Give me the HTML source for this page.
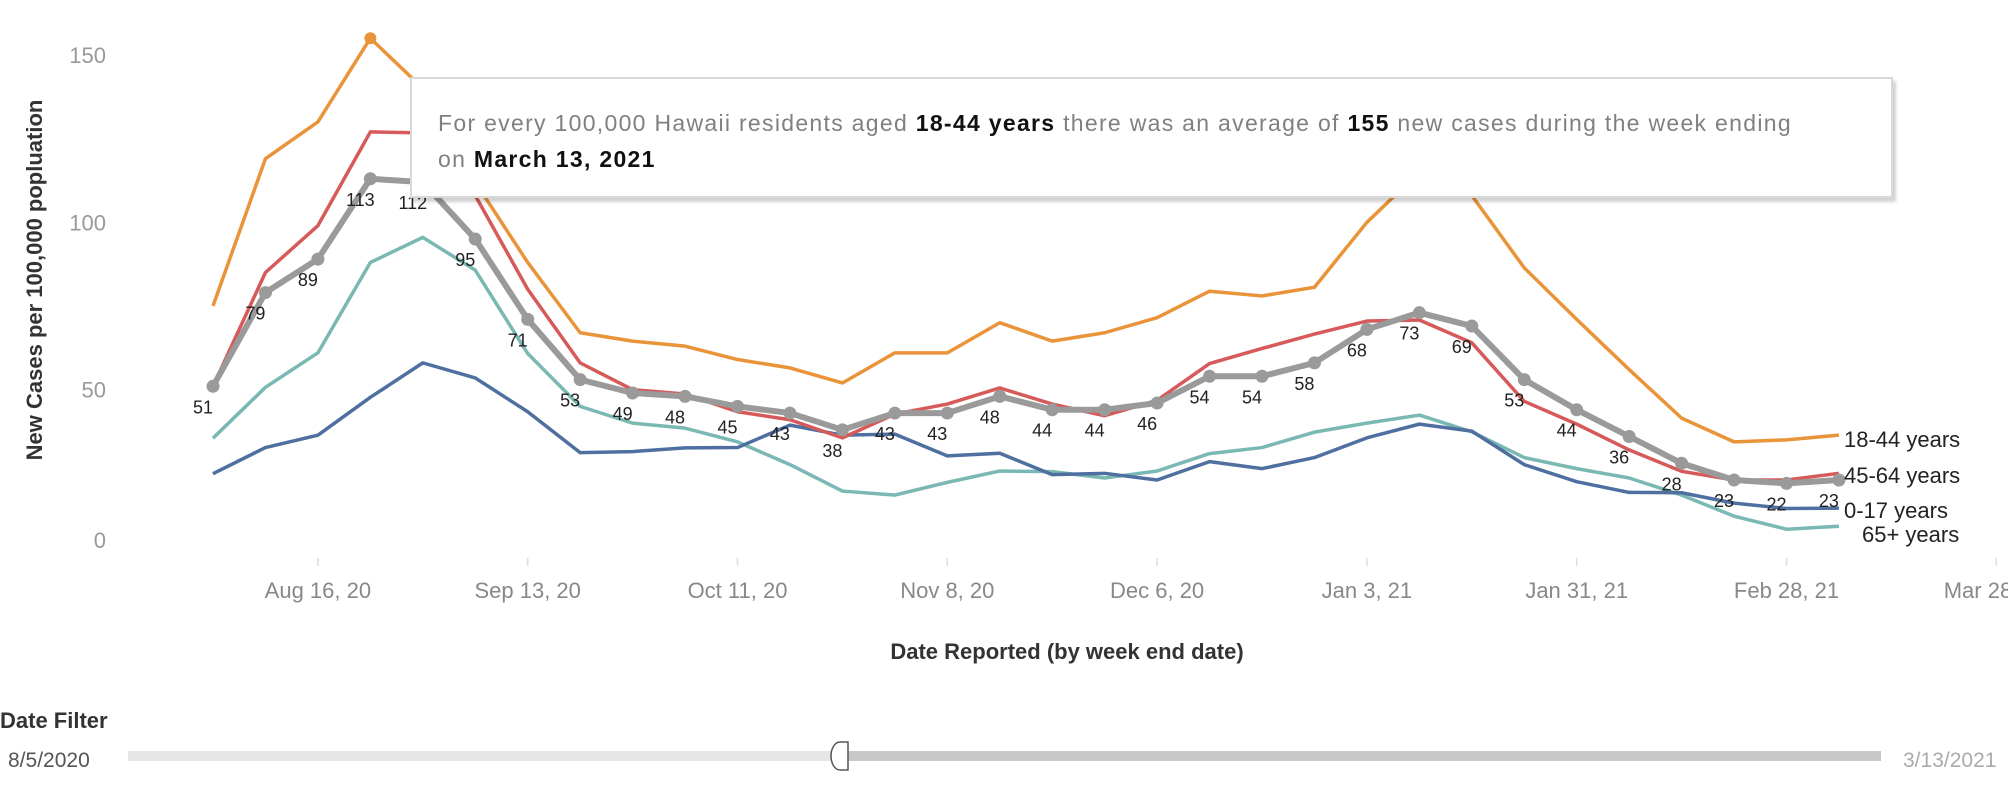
<!DOCTYPE html>
<html><head><meta charset="utf-8">
<style>
body{margin:0;width:2008px;height:792px;background:#fff;overflow:hidden;font-family:"Liberation Sans",sans-serif;position:relative}
svg{position:absolute;left:0;top:0}
.tip{position:absolute;left:410px;top:77px;width:1483px;height:121px;background:#fff;border:2px solid #d8d8d8;box-shadow:3px 4px 3px rgba(0,0,0,.18);box-sizing:border-box}
.tip p{margin:0;position:absolute;left:26px;top:26px;width:1440px;font-size:23px;line-height:36px;color:#808080;letter-spacing:1.3px;white-space:nowrap}
.tip b{color:#111}
</style></head><body>
<svg id="chart" width="2008" height="792"></svg>
<div class="tip"><p>For every 100,000 Hawaii residents aged <b>18-44 years</b> there was an average of <b>155</b> new cases during the week ending<br>on <b>March 13, 2021</b></p></div>
<script>
const allAges=[51,79,89,113,112,95,71,53,49,48,45,43,38,43,43,48,44,44,46,54,54,58,68,73,69,53,44,36,28,23,22,23];
const age18_44=[75,119,130,155,140,112,88,67,64.5,63,59,56.5,52,61,61,70,64.5,67,71.5,79.4,78,80.6,100,115,108,86.4,71,56,41.5,34.4,35,36.4];
const age45_64=[51,85,99,127,126.7,108,80,58,50,48.7,43.4,41,35.6,42.7,45.7,50.5,45.7,42.2,46.8,57.8,62.3,66.6,70.5,70.8,64,46.5,39.7,32,25.6,23,23,25];
const age0_17=[24.9,32.7,36.4,47.7,58,53.5,43.4,31.2,31.5,32.6,32.7,39.4,36.4,36.7,30.2,31,24.6,25,23,28.5,26.4,29.7,35.6,39.7,37.6,27.6,22.5,19.3,19.2,16.1,14.5,14.6];
const age65=[35.5,50.7,61,88,95.5,85.7,60.8,45,40,38.5,34.4,27.6,19.7,18.5,22.3,25.7,25.5,23.6,25.7,30.9,32.7,37.3,40,42.4,37.4,29.7,26.4,23.6,18.5,12.2,8.3,9.2];
const yTicks=[0,50,100,150];
const xTickIdx=[2,6,10,14,18,22,26,30,34];
const xTickLabels=["Aug 16, 20","Sep 13, 20","Oct 11, 20","Nov 8, 20","Dec 6, 20","Jan 3, 21","Jan 31, 21","Feb 28, 21","Mar 28, 21"];
const seriesNames=["18-44 years","45-64 years","0-17 years","65+ years"];

const NS="http://www.w3.org/2000/svg";
const svg=document.getElementById('chart');
const X=i=>213+i*52.45;
const Y=v=>557-v*3.347;
function mk(tag,attrs,parent){const e=document.createElementNS(NS,tag);for(const k in attrs)e.setAttribute(k,attrs[k]);(parent||svg).appendChild(e);return e;}
function txt(s,attrs){const t=mk('text',attrs);t.textContent=s;return t;}

yTicks.forEach(v=>{
  const t=txt(String(v),{x:106,y:Math.min(Y(v),540)+8,'text-anchor':'end','font-size':22,fill:'#999'});
  
  
});
const yt=txt("New Cases per 100,000 popluation",{x:0,y:0,transform:'translate(42,280) rotate(-90)','text-anchor':'middle','font-size':22,'font-weight':'bold',fill:'#333'});


const ax=mk('line',{x1:110,x2:2008,y1:560,y2:560,stroke:'#eee','stroke-width':1,'stroke-dasharray':'2 50'});


xTickIdx.forEach((idx,k)=>{
  const tk=mk('line',{x1:X(idx),x2:X(idx),y1:558,y2:566,stroke:'#ddd','stroke-width':1.5});
  
  
  const t=txt(xTickLabels[k],{x:X(idx),y:598,'text-anchor':'middle','font-size':22,fill:'#888'});
  
  
});
const xt=txt("Date Reported (by week end date)",{x:1067,y:659,'text-anchor':'middle','font-size':22,'font-weight':'bold',fill:'#333'});



function line(data,color,w,name){
  const p=mk('polyline',{points:data.map((v,i)=>X(i)+','+Y(v)).join(' '),fill:'none',stroke:color,'stroke-width':w,'stroke-linejoin':'round'});
  
  
}
line(age65,'#7ab8b3',3.5,'line-65-plus');
line(age0_17,'#4e6fa0',3.5,'line-0-17');
line(age45_64,'#d65a5a',3.5,'line-45-64');
line(age18_44,'#ea943a',3.5,'line-18-44');
const pk=mk('circle',{cx:X(3),cy:Y(age18_44[3]),r:6,fill:'#ea943a'});


line(allAges,'#9a9a9a',6,'line-all-ages');
allAges.forEach((v,i)=>{
  const c=mk('circle',{cx:X(i),cy:Y(v),r:6.5,fill:'#9a9a9a'});
  
  
  const t=txt(String(v),{x:X(i)-10,y:Y(v)+27,'text-anchor':'middle','font-size':18,fill:'#222'});
  
  
});
const legY=[439,475,510,534], legX=[1844,1844,1844,1862];
seriesNames.forEach((s,k)=>{
  const t=txt(s,{x:legX[k],y:legY[k]+8,'font-size':22,fill:'#222'});
  
  
});
const df=txt("Date Filter",{x:0,y:728,'font-size':22,'font-weight':'bold',fill:'#333'});


const d1=txt("8/5/2020",{x:8,y:767,'font-size':21,fill:'#555'});


const d2=txt("3/13/2021",{x:1903,y:767,'font-size':21,fill:'#aaa'});


const tr1=mk('rect',{x:128,y:751,width:712,height:10,fill:'#e6e6e6'});


const tr2=mk('rect',{x:840,y:751,width:1041,height:10,fill:'#c8c8c8'});


const h=mk('path',{d:'M848 742 L840 742 A9 14 0 0 0 840 770 L848 770 Z',fill:'#fff',stroke:'#555','stroke-width':1.5});


</script>
</body></html>
